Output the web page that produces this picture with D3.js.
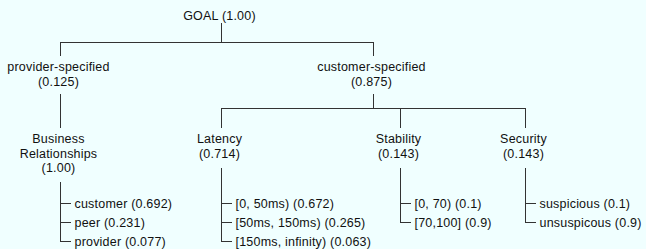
<!DOCTYPE html>
<html>
<head>
<meta charset="utf-8">
<script src="https://cdn.jsdelivr.net/npm/d3@7"></script>
<style>
  body { margin: 0; background: #f0ffff; }
  svg { display: block; }
  .lbl { font-family: "Liberation Sans", Arial, Helvetica, sans-serif; font-size: 12.5px; letter-spacing: 0.2px; fill: #111; }
  .link { stroke: #333; stroke-width: 1; fill: none; shape-rendering: crispEdges; }
</style>
</head>
<body>
<div id="tree"></div>
<script>
// tree values
var goalName = "GOAL";
var goalWeight = 1.00;

var groupNames = ["provider-specified", "customer-specified"];
var groupWeights = [0.125, 0.875];

var criteriaNames = [["Business", "Relationships"], ["Latency"], ["Stability"], ["Security"]];
var criteriaGroup = ["provider-specified", "customer-specified", "customer-specified", "customer-specified"];
var criteriaWeights = [1.00, 0.714, 0.143, 0.143];

var leafNames = [
    ["customer", "peer", "provider"],
    ["[0, 50ms)", "[50ms, 150ms)", "[150ms, infinity)"],
    ["[0, 70)", "[70,100]"],
    ["suspicious", "unsuspicous"]
];
var leafWeights = [
    [0.692, 0.231, 0.077],
    [0.672, 0.265, 0.063],
    [0.1, 0.9],
    [0.1, 0.9]
];

var svgWidth = 646;
var svgHeight = 249;
var lineH = 14.5;
var rowH = 19;

var svg = d3.select('#tree')
    .append('svg')
    .attr('width', svgWidth)
    .attr('height', svgHeight);

var fmt = function(v) { return v === 1 ? "(1.00)" : "(" + v + ")"; };

// build the hierarchy
var rootData = {
    name: [goalName], weight: goalWeight,
    children: groupNames.map(function(g, i) {
        return {
            name: [g], weight: groupWeights[i],
            children: criteriaNames.map(function(c, j) {
                return {name: c, weight: criteriaWeights[j], group: criteriaGroup[j],
                        leaves: leafNames[j].map(function(l, k) { return {name: l, weight: leafWeights[j][k]}; })};
            }).filter(function(c) { return c.group === g; })
        };
    })
};

var root = d3.hierarchy(rootData);

// column positions of the criteria, parents sit in the middle of their children
var colX = d3.scaleOrdinal()
    .domain(criteriaNames.map(function(c) { return c.join(" "); }))
    .range([60.5, 221.5, 400.5, 525.5]);

root.eachAfter(function(d) {
    if (d.depth === 2) d.x = colX(d.data.name.join(" "));
    else d.x = (d.children[0].x + d.children[d.children.length - 1].x) / 2;
});
root.x = 221.5;

// first baseline of each level
var levelY = d3.scaleOrdinal().domain([0, 1, 2]).range([20, 71, 143]);
var leafY = d3.scaleLinear().domain([0, 1]).range([203, 203 + rowH]);

var g = svg.append('g');

// labels
root.descendants().forEach(function(d) {
    var lines = d.data.name.concat([fmt(d.data.weight)]);
    if (d.depth === 0) lines = [d.data.name[0] + " " + fmt(d.data.weight)];
    var t = g.append('text')
        .attr('class', 'lbl')
        .attr('text-anchor', 'middle');
    lines.forEach(function(s, i) {
        t.append('tspan')
            .attr('x', d.x - 2)
            .attr('y', levelY(d.depth) + i * lineH)
            .text(s);
    });
    d.bottom = levelY(d.depth) + (lines.length - 1) * lineH;
});

// root to groups
var gx = root.children.map(function(d) { return d.x; });
g.append('line').attr('class', 'link')
    .attr('x1', root.x).attr('x2', root.x).attr('y1', 23).attr('y2', 42);
g.append('line').attr('class', 'link')
    .attr('x1', d3.min(gx)).attr('x2', d3.max(gx)).attr('y1', 42).attr('y2', 42);
root.children.forEach(function(d) {
    g.append('line').attr('class', 'link')
        .attr('x1', d.x).attr('x2', d.x).attr('y1', 42).attr('y2', 56);
});

// groups to criteria
root.children.forEach(function(d) {
    var top = d.bottom + 8;
    if (d.children.length === 1) {
        g.append('line').attr('class', 'link')
            .attr('x1', d.x).attr('x2', d.x).attr('y1', top).attr('y2', 128);
        return;
    }
    var cx = d.children.map(function(c) { return c.x; });
    g.append('line').attr('class', 'link')
        .attr('x1', d.x).attr('x2', d.x).attr('y1', top).attr('y2', 108);
    g.append('line').attr('class', 'link')
        .attr('x1', d3.min(cx)).attr('x2', d3.max(cx)).attr('y1', 108).attr('y2', 108);
    d.children.forEach(function(c) {
        g.append('line').attr('class', 'link')
            .attr('x1', c.x).attr('x2', c.x).attr('y1', 108).attr('y2', 128);
    });
});

// criteria to their leaves
root.leaves().forEach(function(d) {
    var leaves = d.data.leaves;
    var lastY = Math.round(leafY(leaves.length - 1)) + 0.5;
    g.append('line').attr('class', 'link')
        .attr('x1', d.x).attr('x2', d.x)
        .attr('y1', d.bottom + 10).attr('y2', lastY);

    var rows = g.selectAll(null)
        .data(leaves)
        .enter()
        .append('g')
        .attr('transform', function(l, i) { return 'translate(' + d.x + ',' + (Math.round(leafY(i)) + 0.5) + ')'; });

    rows.append('line').attr('class', 'link')
        .attr('x1', 0).attr('x2', 10).attr('y1', 0).attr('y2', 0);

    rows.append('text')
        .attr('class', 'lbl')
        .attr('x', 14)
        .attr('dy', 4)
        .text(function(l) { return l.name + " " + fmt(l.weight); });
});
</script>
</body>
</html>
